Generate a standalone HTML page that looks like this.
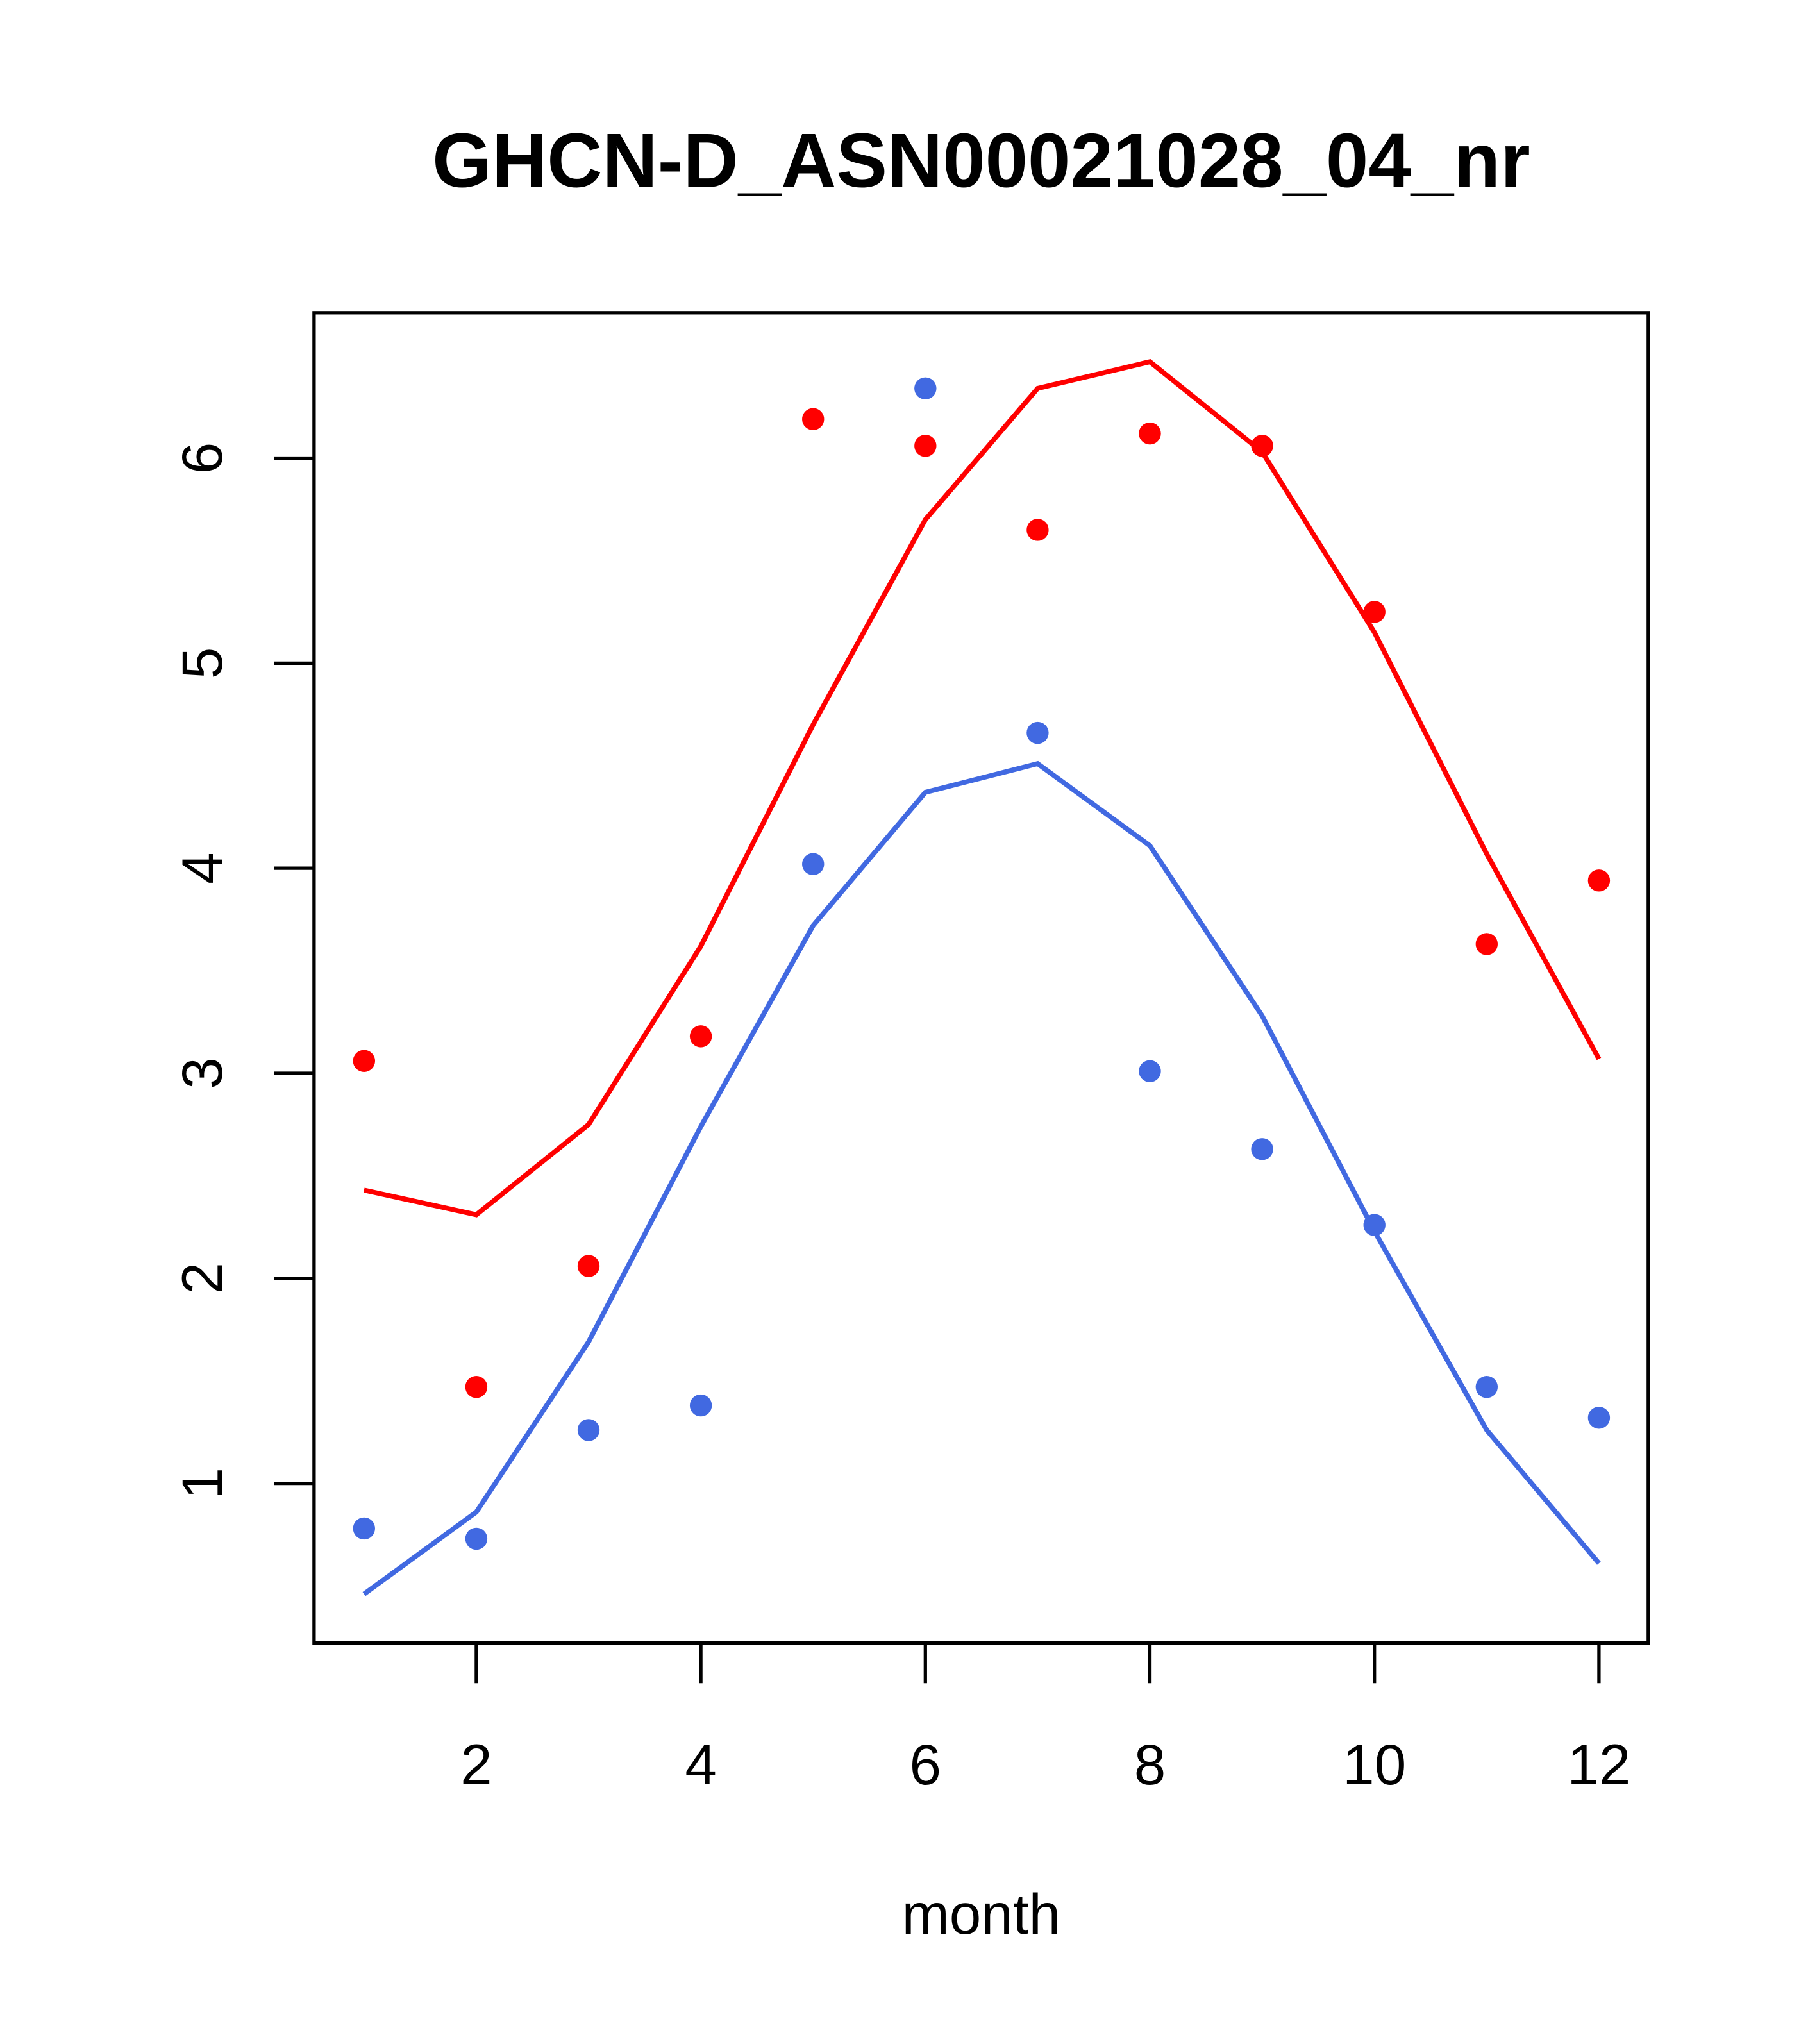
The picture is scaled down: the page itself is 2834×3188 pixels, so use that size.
<!DOCTYPE html>
<html><head><meta charset="utf-8"><style>html,body{margin:0;padding:0;background:#fff}svg{display:block}</style></head>
<body>
<svg id="chart" width="2834" height="3188" viewBox="0 0 1400 1575" preserveAspectRatio="none" xmlns="http://www.w3.org/2000/svg" font-family="Liberation Sans, sans-serif">
<rect width="1400" height="1575" fill="#fff"/>
<text x="756" y="144" text-anchor="middle" font-size="59" font-weight="bold">GHCN-D_ASN00021028_04_nr</text>
<rect x="242" y="241" width="1028" height="1025" fill="none" stroke="#000" stroke-width="2.6"/>
<g id="xaxis"></g>
<g id="yaxis"></g>
<text x="756" y="1490" text-anchor="middle" font-size="44">month</text>
<g id="series"></g>
</svg>
<script>
const months=[1,2,3,4,5,6,7,8,9,10,11,12];
const redPoints=[3.06,1.47,2.06,3.18,6.19,6.06,5.65,6.12,6.06,5.25,3.63,3.94];
const redLine=[2.43,2.31,2.75,3.62,4.70,5.70,6.34,6.47,6.03,5.15,4.07,3.07];
const bluePoints=[0.78,0.73,1.26,1.38,4.02,6.34,4.66,3.01,2.63,2.26,1.47,1.32];
const blueLine=[0.46,0.86,1.69,2.74,3.72,4.37,4.51,4.11,3.28,2.23,1.26,0.61];
const xTicks=[2,4,6,8,10,12];
const yTicks=[1,2,3,4,5,6];
const NS="http://www.w3.org/2000/svg";
function X(m){return 367+(m-2)*86.5;}
function Y(v){return 353-(v-6)*158;}
function mk(tag,attrs,parent){const e=document.createElementNS(NS,tag);for(const k in attrs)e.setAttribute(k,attrs[k]);parent.appendChild(e);return e;}
const xa=document.getElementById('xaxis'),ya=document.getElementById('yaxis'),s=document.getElementById('series');
xTicks.forEach(t=>{
  const l=mk('line',{x1:X(t),x2:X(t),y1:1266,y2:1297,stroke:'#000','stroke-width':2.6},xa);
  
  
  const tx=mk('text',{x:X(t),y:1375,'text-anchor':'middle','font-size':44},xa);
  tx.textContent=t;
  
  
});
yTicks.forEach(t=>{
  const l=mk('line',{x1:211,x2:242,y1:Y(t),y2:Y(t),stroke:'#000','stroke-width':2.6},ya);
  
  
  const tx=mk('text',{x:0,y:0,'text-anchor':'middle','font-size':44,transform:'translate(171,'+Y(t)+') rotate(-90)'},ya);
  tx.textContent=t;
  
  
});
function line(vals,col,name){
  const p=mk('polyline',{points:vals.map((v,i)=>X(months[i])+','+Y(v)).join(' '),fill:'none',stroke:col,'stroke-width':3.8},s);
  
  
}
function pts(vals,col,name){
  vals.forEach((v,i)=>{
    const c=mk('circle',{cx:X(months[i]),cy:Y(v),r:8.5,fill:col},s);
    
    
  });
}
line(redLine,'#ff0000','red-fit-line');
line(blueLine,'#4169e1','blue-fit-line');
pts(redPoints,'#ff0000','red-point');
pts(bluePoints,'#4169e1','blue-point');
</script>
</body></html>
